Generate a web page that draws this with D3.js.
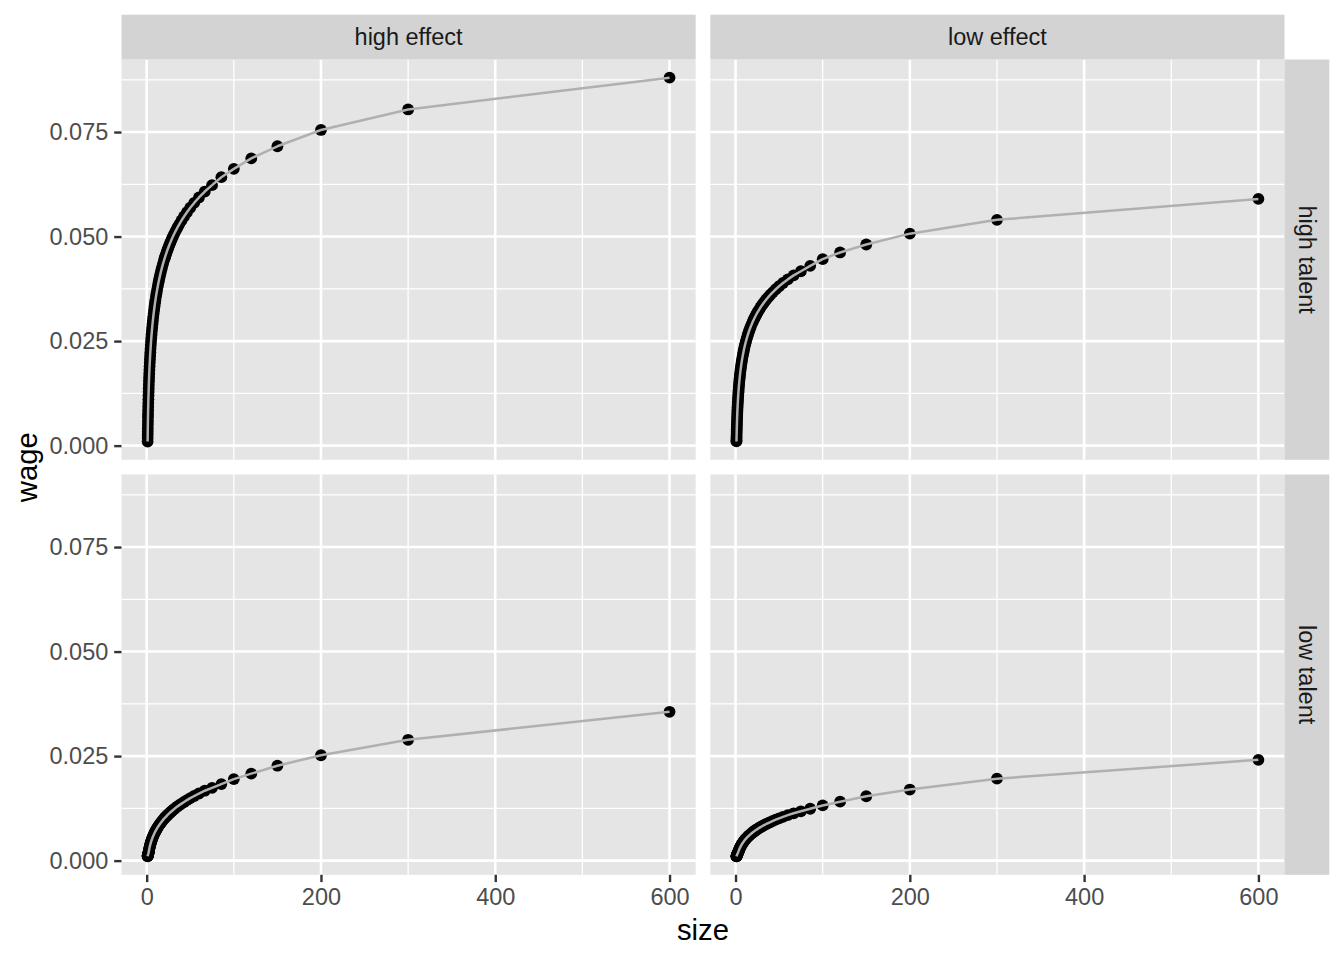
<!DOCTYPE html>
<html>
<head>
<meta charset="utf-8">
<script src="https://cdn.jsdelivr.net/npm/d3@7"></script>
<style>
  html, body { margin: 0; padding: 0; background: #ffffff; }
  svg { display: block; }
  text { font-family: "Liberation Sans", Arial, Helvetica, sans-serif; }
</style>
</head>
<body>
<svg id="chart" width="1344" height="960"></svg>
<script>
// ---------------- data ----------------
const effects = ["high effect", "low effect"];
const talents = ["high talent", "low talent"];

const sizes = [
  1.05, 1.1, 1.15, 1.2, 1.26, 1.33, 1.4, 1.48, 1.56, 1.65,
  1.75, 1.85, 1.96, 2.08, 2.2, 2.33, 2.47, 2.62, 2.78, 2.95,
  3.13, 3.32, 3.52, 3.73, 3.95, 4.19, 4.44, 4.71, 5.0, 5.3,
  5.62, 5.96, 6.32, 6.7, 7.1, 7.53, 8.0, 8.5, 9.0, 9.5,
  10.0, 10.7, 11.3, 12.0, 12.8, 13.6, 14.3, 15.0, 15.8, 16.7,
  17.6, 18.8, 20.0, 20.7, 21.4, 22.2, 23.1, 24.0, 25.0, 26.1,
  27.3, 28.6, 30.0, 31.6, 33.3, 35.3, 37.5, 40.0, 42.9, 46.2,
  50.0, 54.5, 60.0, 66.7, 75, 85.7, 100, 120, 150, 200,
  300, 600
];

const wageHighTalentHighEffect = [
  0.00096, 0.0018, 0.00257, 0.00329, 0.0041, 0.00498, 0.00581, 0.0067, 0.00753, 0.00841,
  0.00932, 0.01018, 0.01107, 0.01198, 0.01283, 0.01369, 0.01457, 0.01545, 0.01633, 0.01721,
  0.01809, 0.01896, 0.01981, 0.02066, 0.0215, 0.02235, 0.02319, 0.02405, 0.02491, 0.02575,
  0.02659, 0.02743, 0.02827, 0.0291, 0.02992, 0.03075, 0.03161, 0.03246, 0.03327, 0.03403,
  0.03475, 0.0357, 0.03646, 0.0373, 0.0382, 0.03905, 0.03975, 0.04041, 0.04113, 0.0419,
  0.04262, 0.04354, 0.04439, 0.04486, 0.04532, 0.04582, 0.04637, 0.0469, 0.04745, 0.04804,
  0.04866, 0.0493, 0.04995, 0.05066, 0.05137, 0.05216, 0.05299, 0.05386, 0.05481, 0.05582,
  0.05689, 0.05805, 0.05935, 0.06077, 0.0623, 0.0642, 0.0662, 0.0687, 0.0716, 0.0755,
  0.0804, 0.088
];

const wageHighTalentLowEffect = [
  0.001, 0.00125, 0.00172, 0.0022, 0.00275, 0.00334, 0.00389, 0.00449, 0.00505, 0.00563,
  0.00624, 0.00682, 0.00742, 0.00803, 0.0086, 0.00917, 0.00976, 0.01035, 0.01094, 0.01153,
  0.01212, 0.0127, 0.01327, 0.01384, 0.01441, 0.01497, 0.01554, 0.01611, 0.01669, 0.01725,
  0.01782, 0.01838, 0.01894, 0.0195, 0.02005, 0.0206, 0.02118, 0.02175, 0.02229, 0.0228,
  0.02328, 0.02392, 0.02443, 0.02499, 0.02559, 0.02616, 0.02663, 0.02707, 0.02756, 0.02807,
  0.02856, 0.02917, 0.02974, 0.03006, 0.03036, 0.0307, 0.03107, 0.03142, 0.03179, 0.03219,
  0.0326, 0.03303, 0.03347, 0.03394, 0.03442, 0.03495, 0.0355, 0.03609, 0.03672, 0.0374,
  0.03812, 0.03889, 0.03976, 0.04072, 0.0417, 0.043, 0.0446, 0.0462, 0.0481, 0.0507,
  0.054, 0.059
];

const wageLowTalentHighEffect = [
  0.00105, 0.0011, 0.00114, 0.00118, 0.00123, 0.00128, 0.00133, 0.00139, 0.00145, 0.00152,
  0.00159, 0.00166, 0.00174, 0.00184, 0.00195, 0.00207, 0.0022, 0.00235, 0.00251, 0.0028,
  0.00297, 0.00315, 0.00333, 0.00351, 0.00369, 0.00388, 0.00406, 0.00426, 0.00446, 0.00466,
  0.00486, 0.00506, 0.00527, 0.00548, 0.00569, 0.00591, 0.00614, 0.00637, 0.00659, 0.0068,
  0.007, 0.00728, 0.0075, 0.00775, 0.00802, 0.00828, 0.0085, 0.00871, 0.00894, 0.00919,
  0.00943, 0.00974, 0.01003, 0.0102, 0.01036, 0.01054, 0.01073, 0.01092, 0.01112, 0.01134,
  0.01157, 0.01181, 0.01206, 0.01234, 0.01262, 0.01294, 0.01327, 0.01363, 0.01403, 0.01446,
  0.01493, 0.01545, 0.01605, 0.01672, 0.0174, 0.0183, 0.0195, 0.0208, 0.0227, 0.0252,
  0.0289, 0.0356
];

const wageLowTalentLowEffect = [
  0.001, 0.00103, 0.00106, 0.00109, 0.00112, 0.00116, 0.0012, 0.00124, 0.00128, 0.00133,
  0.00138, 0.00143, 0.00149, 0.00155, 0.00161, 0.00167, 0.00174, 0.00181, 0.00189, 0.00197,
  0.00205, 0.00215, 0.00226, 0.00238, 0.0025, 0.00263, 0.00275, 0.00288, 0.00302, 0.00315,
  0.00329, 0.00343, 0.00357, 0.00371, 0.00385, 0.004, 0.00416, 0.00431, 0.00446, 0.0046,
  0.00474, 0.00493, 0.00508, 0.00525, 0.00543, 0.00561, 0.00575, 0.0059, 0.00605, 0.00622,
  0.00638, 0.00659, 0.00679, 0.00691, 0.00701, 0.00714, 0.00726, 0.00739, 0.00753, 0.00768,
  0.00783, 0.008, 0.00816, 0.00835, 0.00854, 0.00876, 0.00898, 0.00923, 0.0095, 0.00979,
  0.01011, 0.01046, 0.01087, 0.01132, 0.0118, 0.0124, 0.0132, 0.0141, 0.0154, 0.017,
  0.0196, 0.0241
];

const xTickValues = [0, 200, 400, 600];
const xMinorValues = [100, 300, 500];
const yTickValues = [0, 0.025, 0.05, 0.075];
const yMinorValues = [0.0125, 0.0375, 0.0625, 0.0875];

const panelDefs = [
  { effect: "high effect", talent: "high talent", wage: wageHighTalentHighEffect },
  { effect: "low effect",  talent: "high talent", wage: wageHighTalentLowEffect },
  { effect: "high effect", talent: "low talent",  wage: wageLowTalentHighEffect },
  { effect: "low effect",  talent: "low talent",  wage: wageLowTalentLowEffect }
];

// ---------------- layout ----------------
const W = 1344, H = 960;
const margin = 14.7;
const stripSize = 44.8;
const panelLeft = 121.5;
const panelTop = margin + stripSize;       // 59.5
const panelSpacing = 14.7;
const panelW = (W - margin - stripSize - panelLeft - panelSpacing) / 2;
const panelH = 400.3;

const colX = [panelLeft, panelLeft + panelW + panelSpacing];
const rowY = [panelTop, panelTop + panelH + panelSpacing];

const panelFill = "#e5e5e5";
const stripFill = "#d3d3d3";

// scales (shared / fixed across facets, ggplot 5% expansion)
const allX = sizes;
const allY = [].concat(...panelDefs.map(p => p.wage));
const xExt = d3.extent(allX), yExt = d3.extent(allY);
const xPad = (xExt[1] - xExt[0]) * 0.05, yPad = (yExt[1] - yExt[0]) * 0.05;
const x = d3.scaleLinear().domain([xExt[0] - xPad, xExt[1] + xPad]).range([0, panelW]);
const y = d3.scaleLinear().domain([yExt[0] - yPad, yExt[1] + yPad]).range([panelH, 0]);

const svg = d3.select("#chart");
svg.append("rect").attr("width", W).attr("height", H).attr("fill", "#ffffff");

const tickFont = 23.5;
const gridMajor = 2.6, gridMinor = 1.3;

panelDefs.forEach(p => {
  const ci = effects.indexOf(p.effect);
  const ri = talents.indexOf(p.talent);
  const g = svg.append("g").attr("transform", `translate(${colX[ci]},${rowY[ri]})`);
  g.append("rect").attr("width", panelW).attr("height", panelH).attr("fill", panelFill);

  // minor grid
  g.append("g").selectAll("line").data(xMinorValues).join("line")
    .attr("x1", d => x(d)).attr("x2", d => x(d)).attr("y1", 0).attr("y2", panelH)
    .attr("stroke", "#ffffff").attr("stroke-width", gridMinor);
  g.append("g").selectAll("line").data(yMinorValues.filter(v => y(v) >= 0 && y(v) <= panelH)).join("line")
    .attr("x1", 0).attr("x2", panelW).attr("y1", d => y(d)).attr("y2", d => y(d))
    .attr("stroke", "#ffffff").attr("stroke-width", gridMinor);
  // major grid
  g.append("g").selectAll("line").data(xTickValues).join("line")
    .attr("x1", d => x(d)).attr("x2", d => x(d)).attr("y1", 0).attr("y2", panelH)
    .attr("stroke", "#ffffff").attr("stroke-width", gridMajor);
  g.append("g").selectAll("line").data(yTickValues).join("line")
    .attr("x1", 0).attr("x2", panelW).attr("y1", d => y(d)).attr("y2", d => y(d))
    .attr("stroke", "#ffffff").attr("stroke-width", gridMajor);

  const pts = sizes.map((s, i) => ({ s: s, w: p.wage[i] }));

  // points
  g.append("g").selectAll("circle").data(pts).join("circle")
    .attr("cx", d => x(d.s)).attr("cy", d => y(d.w)).attr("r", 5.9)
    .attr("fill", "#000000");

  // line on top
  const line = d3.line().x(d => x(d.s)).y(d => y(d.w));
  g.append("path").datum(pts).attr("d", line)
    .attr("fill", "none").attr("stroke", "#b0b0b0").attr("stroke-width", 2.5)
    .attr("stroke-linejoin", "round");

  // y axis on first column
  if (ci === 0) {
    const ax = g.append("g").call(
      d3.axisLeft(y).tickValues(yTickValues).tickFormat(d3.format(".3f"))
        .tickSize(7.3).tickPadding(5.9));
    ax.select(".domain").remove();
    ax.selectAll(".tick line").attr("stroke", "#333333").attr("stroke-width", 2.4);
    ax.selectAll(".tick text").attr("fill", "#4d4d4d").style("font-size", tickFont + "px")
      .style("font-family", "'Liberation Sans', Arial, sans-serif");
  }
  // x axis on bottom row
  if (ri === 1) {
    const ax = g.append("g").attr("transform", `translate(0,${panelH})`).call(
      d3.axisBottom(x).tickValues(xTickValues).tickFormat(d3.format("d"))
        .tickSize(7.3).tickPadding(5.9));
    ax.select(".domain").remove();
    ax.selectAll(".tick line").attr("stroke", "#333333").attr("stroke-width", 2.4);
    ax.selectAll(".tick text").attr("fill", "#4d4d4d").style("font-size", tickFont + "px")
      .style("font-family", "'Liberation Sans', Arial, sans-serif");
  }
});

// top strips
effects.forEach((e, ci) => {
  svg.append("rect").attr("x", colX[ci]).attr("y", margin).attr("width", panelW).attr("height", stripSize)
    .attr("fill", stripFill);
  svg.append("text").attr("x", colX[ci] + panelW / 2).attr("y", margin + stripSize / 2)
    .attr("dy", "0.35em").attr("text-anchor", "middle")
    .attr("fill", "#1a1a1a").style("font-size", tickFont + "px").text(e);
});
// right strips
const stripX = colX[1] + panelW;
talents.forEach((t, ri) => {
  svg.append("rect").attr("x", stripX).attr("y", rowY[ri]).attr("width", stripSize).attr("height", panelH)
    .attr("fill", stripFill);
  const cx = stripX + stripSize / 2, cy = rowY[ri] + panelH / 2;
  svg.append("text").attr("transform", `translate(${cx},${cy}) rotate(90)`)
    .attr("dy", "0.35em").attr("text-anchor", "middle")
    .attr("fill", "#1a1a1a").style("font-size", tickFont + "px").text(t);
});

// axis titles
svg.append("text").attr("x", colX[0] + (colX[1] + panelW - colX[0]) / 2).attr("y", 940)
  .attr("text-anchor", "middle").attr("fill", "#000000").style("font-size", "29.3px").text("size");
svg.append("text").attr("transform", `translate(36.5,${rowY[0] + (rowY[1] + panelH - rowY[0]) / 2}) rotate(-90)`)
  .attr("text-anchor", "middle").attr("fill", "#000000").style("font-size", "29.3px").text("wage");
</script>
</body>
</html>
